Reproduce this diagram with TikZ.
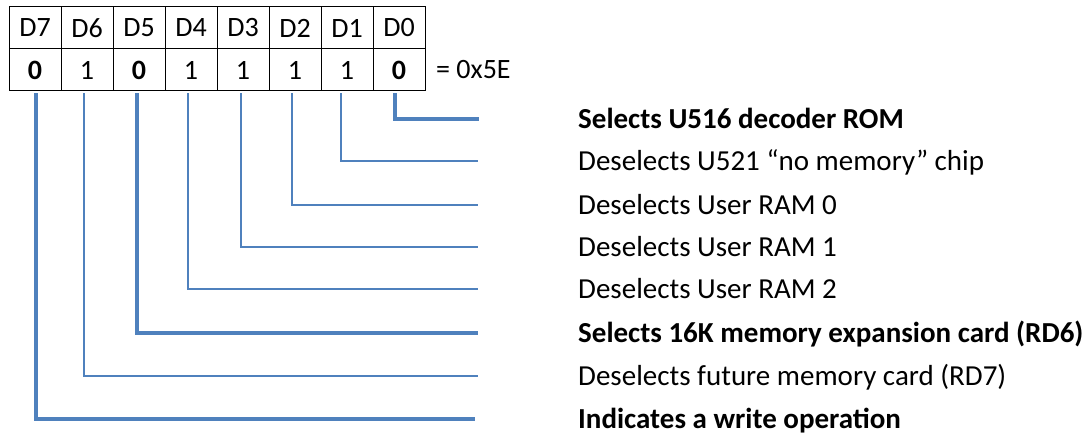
\documentclass[tikz,border=0pt]{standalone}
\usepackage{fontspec}
\setmainfont{Carlito}
\definecolor{lineblue}{HTML}{4F81BD}
\begin{document}
\begin{tikzpicture}[x=1pt,y=-1pt,
  cell/.style={draw=black,line width=1pt,minimum width=52pt,minimum height=42pt,inner sep=0pt,font=\fontsize{28}{32}\selectfont},
  lbl/.style={anchor=west,inner sep=3pt,text height=19pt,text depth=0pt,font=\fontsize{29}{34}\selectfont},
  thinline/.style={draw=lineblue,line width=1.7pt},
  thickline/.style={draw=lineblue,line width=4pt}]
\useasboundingbox (0,0) rectangle (1092,435);
% header row
\foreach \n [count=\i from 0] in {7,6,5,4,3,2,1,0}{
  \node[cell] (h\n) at ({35+52*\i},28) {D\n};
}
% value row
\node[cell] (v7) at (35,70) {\textbf{0}};
\node[cell] (v6) at (87,70) {1};
\node[cell] (v5) at (139,70) {\textbf{0}};
\node[cell] (v4) at (191,70) {1};
\node[cell] (v3) at (243,70) {1};
\node[cell] (v2) at (295,70) {1};
\node[cell] (v1) at (347,70) {1};
\node[cell] (v0) at (399,70) {\textbf{0}};
\node[anchor=west,inner sep=0pt,font=\fontsize{28}{32}\selectfont] (eq) at (436,70) {= 0x5E};
% labels
\node[lbl] (t0) at (575,119) {\textbf{Selects U516 decoder ROM}};
\node[lbl] (t1) at (575,161) {Deselects U521 “no memory” chip};
\node[lbl] (t2) at (575,205) {Deselects User RAM 0};
\node[lbl] (t3) at (575,247) {Deselects User RAM 1};
\node[lbl] (t4) at (575,289) {Deselects User RAM 2};
\node[lbl] (t5) at (575,333) {\textbf{Selects 16K memory expansion card (RD6)}};
\node[lbl] (t6) at (575,376) {Deselects future memory card (RD7)};
\node[lbl] (t7) at (575,419) {\textbf{Indicates a write operation}};
% connectors
\draw[thickline] ([xshift=-4pt,yshift=-2pt]v0.south) |- ([xshift=-96pt]t0.west);
\draw[thinline]  ([xshift=-6pt,yshift=-2pt]v1.south) |- ([xshift=-97pt]t1.west);
\draw[thinline]  ([xshift=-3pt,yshift=-2pt]v2.south) |- ([xshift=-97pt]t2.west);
\draw[thinline]  ([xshift=-2pt,yshift=-2pt]v3.south) |- ([xshift=-97pt]t3.west);
\draw[thinline]  ([xshift=-3pt,yshift=-2pt]v4.south) |- ([xshift=-97pt]t4.west);
\draw[thickline] ([xshift=-2pt,yshift=-2pt]v5.south) |- ([xshift=-97pt]t5.west);
\draw[thinline]  ([xshift=-3pt,yshift=-2pt]v6.south) |- ([xshift=-97pt]t6.west);
\draw[thickline] ([xshift=1pt,yshift=-2pt]v7.south) |- ([xshift=-100pt]t7.west);
\end{tikzpicture}
\end{document}
